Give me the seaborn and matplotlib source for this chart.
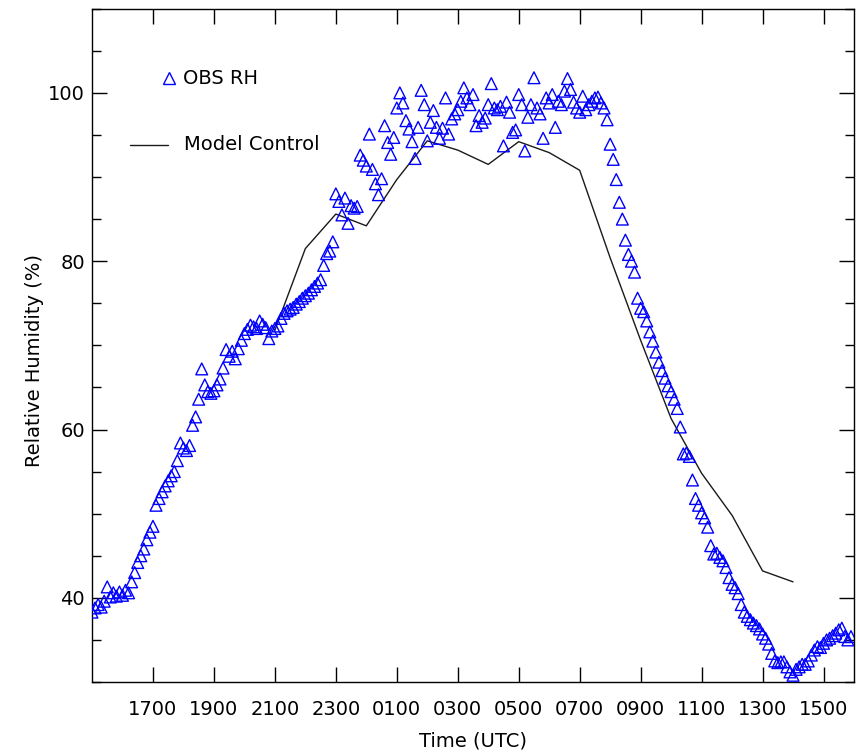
import numpy as np
import matplotlib
matplotlib.use("Agg")
import matplotlib.pyplot as plt
from matplotlib.ticker import MultipleLocator
import seaborn as sns

# Observed relative humidity (%), one sample every 6 minutes starting 1500 UTC
obs_start_hour = 15.0
obs_step_hours = 0.1
obs_rh = [
    38.3, 38.8, 39.2, 38.9, 39.6, 41.3, 40.1, 40.6, 40.2, 40.7,   # 15 UTC
    40.3, 40.9, 40.6, 41.9, 43.0, 44.2, 45.0, 45.8, 46.9, 47.8,   # 16
    48.5, 51.0, 51.8, 52.6, 53.3, 53.9, 54.5, 55.0, 56.3, 58.4,   # 17
    57.8, 57.5, 58.1, 60.5, 61.5, 63.6, 67.2, 65.3, 64.5, 64.3,   # 18
    64.6, 65.3, 66.0, 67.3, 69.5, 68.7, 69.3, 68.4, 69.6, 70.6,   # 19
    71.4, 71.9, 72.4, 72.2, 72.0, 72.9, 72.5, 72.1, 70.8, 71.7,   # 20
    72.0, 72.3, 73.2, 73.8, 74.1, 74.3, 74.5, 74.9, 75.2, 75.6,   # 21
    75.9, 76.2, 76.6, 77.0, 77.4, 77.8, 79.5, 80.9, 81.2, 82.3,   # 22
    88.0, 87.1, 85.5, 87.5, 84.5, 86.6, 86.3, 86.5, 92.6, 92.0,   # 23
    91.3, 95.1, 90.9, 89.2, 87.9, 89.8, 96.1, 94.1, 92.7, 94.7,   # 00
    98.2, 100.0, 98.8, 96.7, 95.7, 94.2, 92.2, 95.9, 100.3, 98.6, # 01
    94.3, 96.5, 97.9, 95.9, 94.6, 95.8, 99.4, 95.1, 96.9, 97.5,   # 02
    98.0, 99.0, 100.6, 99.4, 98.6, 99.8, 96.1, 97.3, 96.5, 97.0,  # 03
    98.6, 101.1, 98.2, 98.0, 98.4, 93.7, 98.9, 97.7, 95.3, 95.6,  # 04
    99.8, 98.6, 93.1, 97.1, 98.6, 101.8, 98.2, 97.5, 94.6, 99.4,  # 05
    98.8, 99.8, 95.9, 99.0, 98.6, 100.2, 101.7, 100.4, 98.9, 98.2, # 06
    97.7, 99.6, 98.0, 98.6, 99.0, 99.4, 99.5, 98.8, 98.2, 96.8,   # 07
    93.9, 92.1, 89.7, 87.0, 85.0, 82.5, 80.8, 80.0, 78.7, 75.6,   # 08
    74.4, 74.0, 72.9, 71.6, 70.5, 69.2, 68.0, 67.0, 66.1, 65.2,   # 09
    64.5, 63.6, 62.5, 60.3, 57.1, 57.2, 56.8, 54.0, 51.8, 51.0,   # 10
    50.1, 49.5, 48.4, 46.2, 45.2, 45.3, 44.8, 44.4, 43.6, 42.4,   # 11
    41.6, 41.2, 40.5, 39.2, 38.3, 37.8, 37.4, 37.0, 36.7, 36.3,   # 12
    35.7, 35.2, 34.5, 33.4, 32.5, 32.3, 32.4, 32.4, 31.8, 31.2,   # 13
    30.8, 31.5, 31.8, 32.1, 32.1, 32.5, 33.2, 33.8, 34.2, 34.1,   # 14
    34.6, 35.0, 35.2, 35.5, 35.8, 36.2, 36.4, 35.4, 35.0, 35.4,   # 15
]

# Model control run, hourly output (hours counted from 00 UTC of day one)
model_hour = [21, 22, 23, 24, 25, 26, 27, 28, 29, 30, 31, 32, 33, 34, 35, 36, 37, 38]
model_rh = [71.8, 81.5, 85.6, 84.2, 89.7, 94.3, 93.2, 91.5, 94.2,
            92.9, 90.8, 80.4, 70.6, 61.3, 54.8, 49.8, 43.2, 41.9]

# Time axis ticks
tick_hours = [17, 19, 21, 23, 25, 27, 29, 31, 33, 35, 37, 39]
tick_labels = ["1700", "1900", "2100", "2300", "0100", "0300",
               "0500", "0700", "0900", "1100", "1300", "1500"]
rh_ticks = [40, 60, 80, 100]

obs_hour = obs_start_hour + obs_step_hours * np.arange(len(obs_rh))

sns.set_style("ticks")
plt.rcParams["font.family"] = ["DejaVu Sans"]

OBS_BLUE = "#0000ff"
INK = "black"

fig = plt.figure(figsize=(8.6, 7.56), dpi=100)
ax = fig.add_axes([92 / 860, 74 / 756, 762 / 860, 673.3 / 756])

sns.scatterplot(x=obs_hour, y=obs_rh, marker="^", s=72,
                facecolor="none", edgecolor=OBS_BLUE, linewidth=1.0,
                ax=ax, legend=False, zorder=3)
sns.lineplot(x=model_hour, y=model_rh, color="#1a1a1a", linewidth=1.0,
             ax=ax, legend=False, zorder=2)

ax.set_xlim(15, 40)
ax.set_ylim(30, 110)

ax.set_xticks(tick_hours)
ax.set_xticklabels(tick_labels)
ax.set_yticks(rh_ticks)
ax.yaxis.set_minor_locator(MultipleLocator(5))

ax.tick_params(which="both", direction="in", top=True, right=True,
               labeltop=False, labelright=False, width=1.0, color=INK,
               labelcolor=INK, labelsize=14)
ax.tick_params(which="major", length=11)
ax.tick_params(which="minor", length=6.5)
ax.tick_params(axis="x", pad=13)
ax.tick_params(axis="y", pad=5)

for side in ["left", "right", "top", "bottom"]:
    ax.spines[side].set_visible(True)
    ax.spines[side].set_color(INK)
    ax.spines[side].set_linewidth(1.0)

ax.set_xlabel("Time (UTC)", fontsize=14, color=INK)
ax.set_ylabel("Relative Humidity (%)", fontsize=14, color=INK)
ax.xaxis.set_label_coords(0.5, -0.074)
ax.yaxis.set_label_coords(-0.063, 0.477)

# Key in the upper-left corner
ax.plot([0.101], [0.897], transform=ax.transAxes, marker="^", markersize=8.5,
        markerfacecolor="none", markeredgecolor=OBS_BLUE, markeredgewidth=1.0,
        linestyle="none")
ax.text(0.1194, 0.897, "OBS RH", transform=ax.transAxes, ha="left",
        va="center", fontsize=14, color=INK)
ax.plot([0.0499, 0.0997], [0.7976, 0.7976], transform=ax.transAxes,
        color="#1a1a1a", linewidth=1.0)
ax.text(0.1207, 0.7976, "Model Control", transform=ax.transAxes, ha="left",
        va="center", fontsize=14, color=INK)

fig.savefig("out.png", dpi=100)
